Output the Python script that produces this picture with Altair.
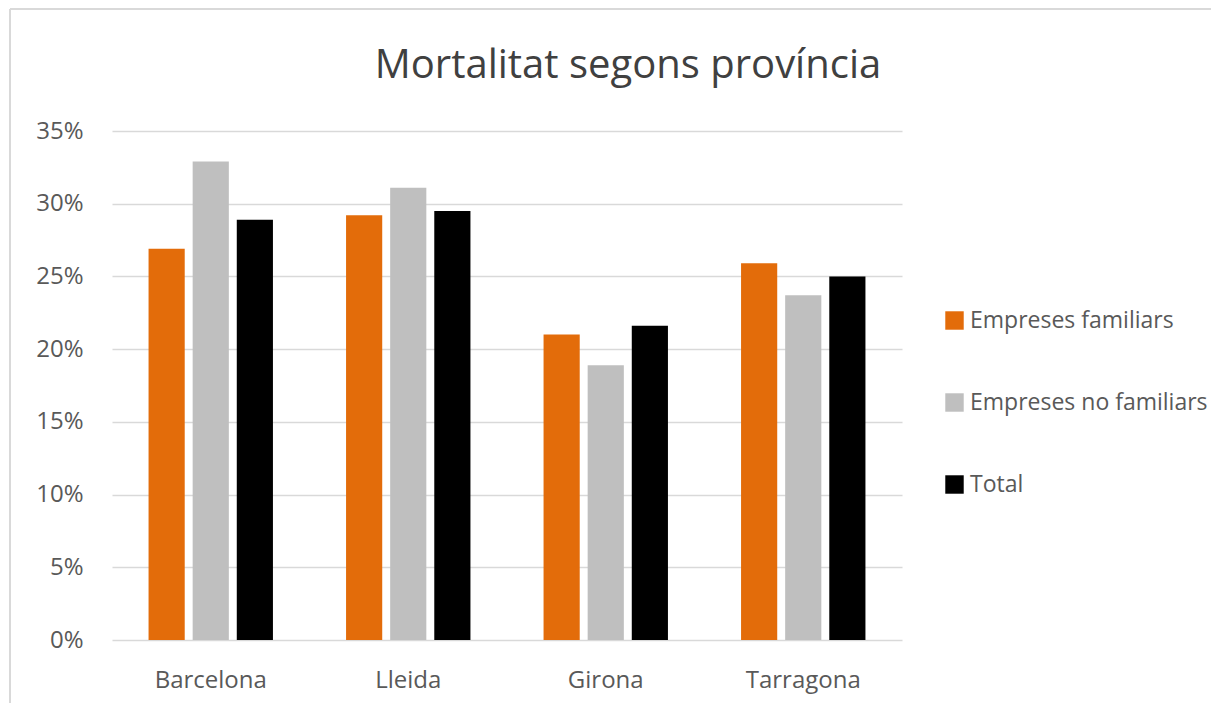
import altair as alt
import pandas as pd

provinces = ["Barcelona", "Lleida", "Girona", "Tarragona"]
series = ["Empreses familiars", "Empreses no familiars", "Total"]
familiars = [0.269, 0.292, 0.210, 0.259]
no_familiars = [0.329, 0.311, 0.189, 0.237]
total = [0.289, 0.295, 0.216, 0.250]
colors = ["#E36C0A", "#BFBFBF", "#000000"]
y_ticks = [0, 0.05, 0.10, 0.15, 0.20, 0.25, 0.30, 0.35]
title_text = "Mortalitat segons província"

rows = []
for s, vals in zip(series, [familiars, no_familiars, total]):
    for p, v in zip(provinces, vals):
        rows.append({"Província": p, "Sèrie": s, "Valor": v})
df = pd.DataFrame(rows)

FONT = "Open Sans"

bars = alt.Chart(df).mark_bar().encode(
    x=alt.X("Província:N", sort=provinces,
            scale=alt.Scale(paddingInner=0.33, paddingOuter=0.165),
            axis=alt.Axis(title=None, labelAngle=0, labelFontSize=24, labelColor="#595959",
                          labelFont=FONT, labelPadding=28, ticks=False, domain=False)),
    xOffset=alt.XOffset("Sèrie:N", sort=series,
                        scale=alt.Scale(paddingInner=0.18, paddingOuter=0.09)),
    y=alt.Y("Valor:Q", scale=alt.Scale(domain=[0, 0.35], nice=False),
            axis=alt.Axis(title=None, format=".0%", values=y_ticks, labelFontSize=24,
                          labelColor="#595959", labelFont=FONT, labelPadding=29,
                          ticks=False, domain=False, gridColor="#D9D9D9", gridWidth=1.5)),
    color=alt.Color("Sèrie:N", sort=series,
                    scale=alt.Scale(domain=series, range=colors),
                    legend=alt.Legend(title=None, orient="none", legendX=831, legendY=178,
                                      symbolType="square", symbolSize=340, symbolStrokeWidth=0,
                                      labelFontSize=23, labelColor="#595959", labelFont=FONT,
                                      labelOffset=4, rowPadding=58, labelLimit=400)),
)

one = pd.DataFrame({"t": [title_text]})
border = alt.Chart(one).mark_rule(color="#D9D9D9", strokeWidth=2).encode(
    x=alt.value(-102), y=alt.value(-122), y2=alt.value(700)
) + alt.Chart(one).mark_rule(color="#D9D9D9", strokeWidth=2).encode(
    x=alt.value(-102), x2=alt.value(1200), y=alt.value(-122)
)

title = alt.Chart(one).mark_text(fontSize=40, font=FONT, color="#404040",
                                 align="center", baseline="alphabetic").encode(
    text="t:N", x=alt.value(516), y=alt.value(-53)
)

chart = alt.layer(border, title, bars).properties(
    width=790, height=509,
    autosize=alt.AutoSizeParams(type="none"),
    padding={"left": 104, "top": 123, "right": 309, "bottom": 63},
).configure(background="white", view=alt.ViewConfig(stroke=None))

chart.save("out.html", embed_options={"renderer": "svg", "actions": False})
